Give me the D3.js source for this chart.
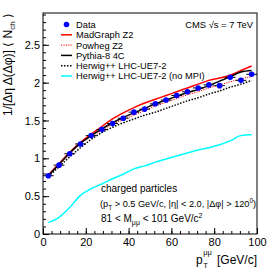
<!DOCTYPE html>
<html>
<head>
<meta charset="utf-8">
<script src="https://cdn.jsdelivr.net/npm/d3@7"></script>
<style>
  body { margin: 0; background: #fff; }
  svg { font-family: "Liberation Sans", Arial, sans-serif; }
</style>
</head>
<body>
<div id="chart"></div>
<script>
// bin centres in pT(mumu)
const binCentres = [2.5, 7.5, 12.5, 17.5, 22.5, 27.5, 32.5, 37.5, 42.5, 47.5,
                    52.5, 57.5, 62.5, 67.5, 72.5, 77.5, 82.5, 87.5, 92.5, 97.5];
const binHalfWidth = 2.5;

const dataValues = [0.77, 0.91, 1.06, 1.19, 1.30, 1.38, 1.46, 1.53, 1.61, 1.65,
                    1.72, 1.77, 1.83, 1.88, 1.93, 1.97, 1.96, 2.07, 2.03, 2.11];
const dataErrors = [0.02, 0.02, 0.02, 0.02, 0.02, 0.02, 0.02, 0.02, 0.02, 0.02,
                    0.02, 0.02, 0.02, 0.02, 0.02, 0.02, 0.02, 0.02, 0.02, 0.02];
const madgraph = [0.78, 0.93, 1.08, 1.21, 1.32, 1.42, 1.52, 1.60, 1.67, 1.73,
                  1.78, 1.83, 1.88, 1.93, 1.98, 2.03, 2.06, 2.10, 2.16, 2.22];
const powheg = [0.77, 0.91, 1.06, 1.19, 1.29, 1.37, 1.45, 1.51, 1.57, 1.63,
                1.69, 1.74, 1.79, 1.84, 1.88, 1.93, 1.97, 2.01, 2.05, 2.08];
const pythia8 = [0.77, 0.92, 1.07, 1.20, 1.30, 1.39, 1.47, 1.54, 1.60, 1.66,
                 1.72, 1.77, 1.82, 1.87, 1.91, 1.96, 2.02, 2.08, 2.14, 2.16];
const herwig = [0.76, 0.89, 1.02, 1.14, 1.25, 1.34, 1.41, 1.47, 1.52, 1.57,
                1.61, 1.66, 1.71, 1.76, 1.80, 1.85, 1.89, 1.94, 1.98, 2.03];
const herwigNoMPI = [0.15, 0.22, 0.35, 0.51, 0.60, 0.66, 0.73, 0.79, 0.86, 0.90,
                     0.95, 0.99, 1.03, 1.07, 1.11, 1.14, 1.18, 1.23, 1.30, 1.31];

const xTicks = [0, 20, 40, 60, 80, 100];
const yTicks = [0, 0.5, 1, 1.5, 2, 2.5];
const yTickLabels = ["0", "0.5", "1", "1.5", "2", "2.5"];
const legendLabels = ["Data", "MadGraph Z2", "Powheg Z2", "Pythia-8 4C",
                      "Herwig++ LHC-UE7-2", "Herwig++ LHC-UE7-2 (no MPI)"];

const W = 270, H = 270;
const margin = { top: 13, right: 13, bottom: 36, left: 43 };
const width = W - margin.left - margin.right;
const height = H - margin.top - margin.bottom;

const svg = d3.select('#chart').append('svg')
  .attr('width', W)
  .attr('height', H);

const x = d3.scaleLinear().domain([0, 100]).range([0, width]);
const y = d3.scaleLinear().domain([0, 2.92]).range([height, 0]);

const g = svg.append('g')
  .attr('transform', `translate(${margin.left},${margin.top})`);

// model curves
const models = [
  { values: madgraph, color: '#ff0000', dash: null, w: 1.5 },
  { values: powheg, color: '#ff0000', dash: '1.2,1.2', w: 1 },
  { values: herwig, color: '#000000', dash: '1.5,1.5', w: 1.5 },
  { values: pythia8, color: '#000000', dash: null, w: 1.5 },
  { values: herwigNoMPI, color: '#00ffff', dash: null, w: 1.5 }
];
const line = d3.line()
  .x((d, i) => x(binCentres[i]))
  .y(d => y(d))
  .curve(d3.curveMonotoneX);

models.forEach(m => {
  g.append('path')
    .datum(m.values)
    .attr('fill', 'none')
    .attr('stroke', m.color)
    .attr('stroke-width', m.w)
    .attr('stroke-dasharray', m.dash)
    .attr('d', line);
});

// data points with error bars
const pts = g.selectAll('.pt').data(dataValues).enter().append('g').attr('class', 'pt');
pts.append('line')
  .attr('x1', (d, i) => x(binCentres[i] - binHalfWidth))
  .attr('x2', (d, i) => x(binCentres[i] + binHalfWidth))
  .attr('y1', d => y(d)).attr('y2', d => y(d))
  .attr('stroke', '#000').attr('stroke-width', 1);
pts.append('line')
  .attr('x1', (d, i) => x(binCentres[i])).attr('x2', (d, i) => x(binCentres[i]))
  .attr('y1', (d, i) => y(d - dataErrors[i])).attr('y2', (d, i) => y(d + dataErrors[i]))
  .attr('stroke', '#000').attr('stroke-width', 1);
pts.append('circle')
  .attr('cx', (d, i) => x(binCentres[i]))
  .attr('cy', d => y(d))
  .attr('r', 2.8)
  .attr('fill', '#0000ff');

// axes, ticks drawn inside the frame
const yMinor = d3.range(0, 2.91, 0.1);
g.append('g')
  .call(d3.axisLeft(y).tickValues(yMinor).tickSize(-3).tickFormat(''))
  .call(a => a.select('.domain').remove());
const yAxis = g.append('g')
  .call(d3.axisLeft(y).tickValues(yTicks).tickSize(-6).tickPadding(3)
    .tickFormat((d, i) => yTickLabels[i]));
yAxis.select('.domain').remove();
yAxis.selectAll('text').attr('font-size', 11).attr('font-family', 'Liberation Sans');

const xMinor = d3.range(0, 100.1, 4);
g.append('g')
  .attr('transform', `translate(0,${height})`)
  .call(d3.axisBottom(x).tickValues(xMinor).tickSize(-3).tickFormat(''))
  .call(a => a.select('.domain').remove());
const xAxis = g.append('g')
  .attr('transform', `translate(0,${height})`)
  .call(d3.axisBottom(x).tickValues(xTicks).tickSize(-6).tickPadding(4));
xAxis.select('.domain').remove();
xAxis.selectAll('text').attr('font-size', 11).attr('font-family', 'Liberation Sans');

// frame
g.append('rect')
  .attr('width', width).attr('height', height)
  .attr('fill', 'none').attr('stroke', '#000').attr('stroke-width', 1);

// axis titles
const xt = svg.append('g').attr('font-size', 12);
xt.append('text').attr('x', 196).attr('y', 264).text('p');
xt.append('text').attr('x', 203.3).attr('y', 268).attr('font-size', 7.5).text('T');
xt.append('text').attr('x', 203.3).attr('y', 255).attr('font-size', 7.5).text('μμ');
xt.append('text').attr('x', margin.left + width).attr('y', 264)
  .attr('text-anchor', 'end').text('[GeV/c]');

const yt = svg.append('text')
  .attr('transform', `translate(12,${margin.top}) rotate(-90)`)
  .attr('text-anchor', 'end')
  .attr('font-size', 12);
yt.append('tspan').text('1/[Δη Δ(Δφ)] ⟨ N');
yt.append('tspan').attr('font-size', 8).attr('dy', 3).text('ch');
yt.append('tspan').attr('dy', -3).text(' ⟩');

// CMS label
svg.append('text')
  .attr('x', 253).attr('y', 28)
  .attr('text-anchor', 'end')
  .attr('font-size', 9.4)
  .text('CMS  √s = 7 TeV');

// legend
const legend = svg.append('g').attr('font-size', 9.3);
const legY0 = 24.5, legDy = 10.3;
legendLabels.forEach((lab, i) => {
  const ly = legY0 + i * legDy;
  if (i === 0) {
    legend.append('circle').attr('cx', 66.5).attr('cy', ly).attr('r', 2.8).attr('fill', '#0000ff');
  } else {
    const m = [models[0], models[1], models[3], models[2], models[4]][i - 1];
    legend.append('line')
      .attr('x1', 61).attr('x2', 72).attr('y1', ly).attr('y2', ly)
      .attr('stroke', m.color).attr('stroke-width', m.w)
      .attr('stroke-dasharray', m.dash);
  }
  legend.append('text').attr('x', 76).attr('y', ly + 3.4).text(lab);
});

// selection text
const info = svg.append('g').attr('font-size', 10);
info.append('text').attr('x', 101).attr('y', 192).text('charged particles');
const l2 = info.append('text').attr('x', 100).attr('y', 207).attr('font-size', 9.2);
l2.append('tspan').text('(p');
l2.append('tspan').attr('font-size', 6.5).attr('dy', 2.5).text('T');
l2.append('tspan').attr('dy', -2.5).text(' > 0.5 GeV/c, |η| < 2.0, |Δφ| > 120');
l2.append('tspan').attr('font-size', 6.5).attr('dy', -4).text('0');
l2.append('tspan').attr('dy', 4).text(')');
const l3 = info.append('text').attr('x', 101).attr('y', 222);
l3.append('tspan').text('81 < M');
l3.append('tspan').attr('font-size', 7).attr('dy', 2.5).text('μμ');
l3.append('tspan').attr('dy', -2.5).text(' < 101 GeV/c');
l3.append('tspan').attr('font-size', 7).attr('dy', -4).text('2');
</script>
</body>
</html>
